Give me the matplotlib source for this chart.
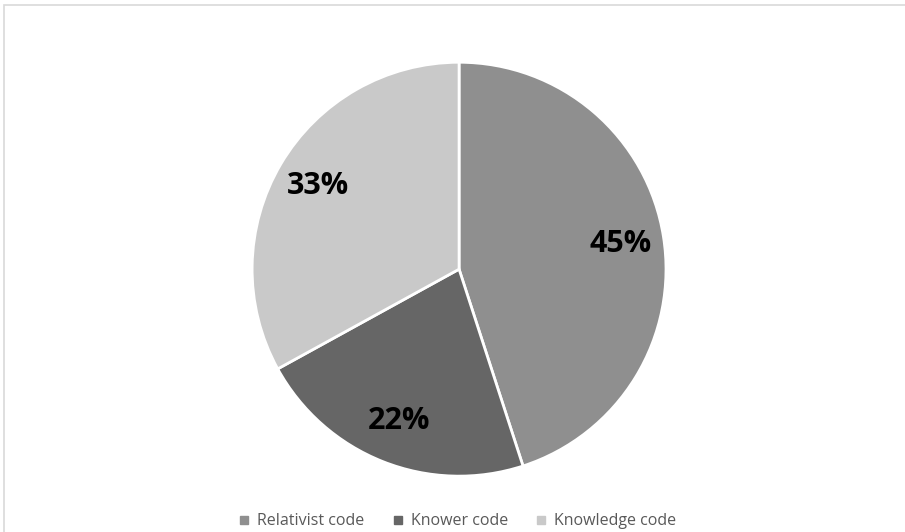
import matplotlib.pyplot as plt
from matplotlib.patches import Rectangle
from matplotlib.lines import Line2D

labels = ["Relativist code", "Knower code", "Knowledge code"]
shares = [45, 22, 33]
colors = ["#8f8f8f", "#666666", "#c9c9c9"]

plt.rcParams['font.family'] = ['Open Sans', 'DejaVu Sans']

fig = plt.figure(figsize=(9.05, 5.32), dpi=100)
fig.patches.append(Rectangle((4 / 905, -0.01), 1.0, 1 - 5 / 532 + 0.01, transform=fig.transFigure,
                             fill=False, edgecolor="#d9d9d9", linewidth=1.2))

ax = fig.add_axes([0.2785, 0.105, 0.4575, 0.778])
wedges, texts, autotexts = ax.pie(
    shares, colors=colors, startangle=90, counterclock=False,
    autopct='%d%%', pctdistance=0.79,
    wedgeprops=dict(edgecolor="white", linewidth=2),
    textprops=dict(fontsize=22, fontweight='bold', color='black'))
ax.set_xlim(-1, 1)
ax.set_ylim(-1, 1)
ax.set_aspect('equal')

handles = [Line2D([], [], marker='s', linestyle='', markersize=6, color=c) for c in colors]
fig.legend(handles, labels, loc='lower center', bbox_to_anchor=(0.505, -0.022), ncol=3,
           frameon=False, fontsize=11.5, labelcolor='#595959', handlelength=0.8,
           handletextpad=0.4, columnspacing=1.7)

fig.savefig("out.png", dpi=100)
